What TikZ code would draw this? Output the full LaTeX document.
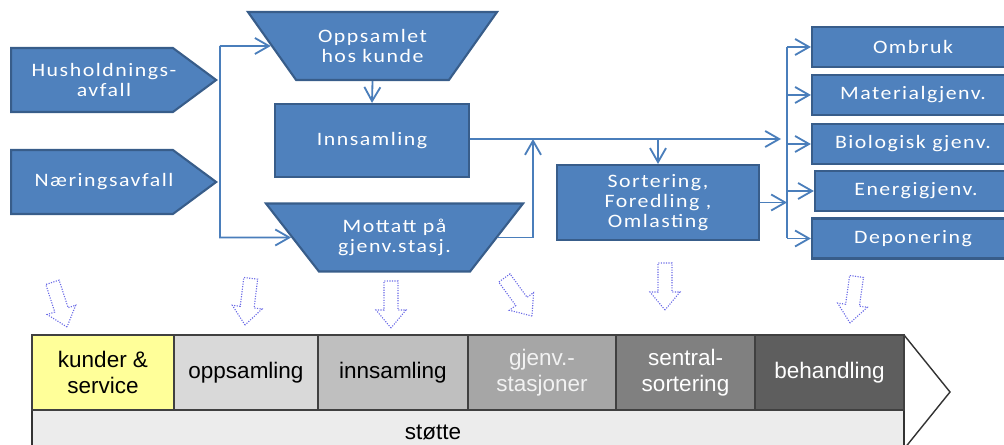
\documentclass[tikz,border=0pt]{standalone}
\usepackage{fontspec}
\usetikzlibrary{shapes.geometric,shapes.symbols,arrows.meta}
\newfontfamily\boxfont[LetterSpace=8,FakeStretch=1.15]{Carlito}
\newfontfamily\barfont{Liberation Sans}
\definecolor{boxblue}{HTML}{4F81BD}
\definecolor{boxedge}{HTML}{385D8A}
\definecolor{lineblue}{HTML}{4A7EBB}
\definecolor{dotblue}{HTML}{6A6AE6}
\definecolor{kundeyellow}{HTML}{FFFF99}
\begin{document}
\begin{tikzpicture}[x=0.025cm,y=-0.025cm,
  blk/.style={draw=boxedge,fill=boxblue,line width=1.5pt,text=white,
    font=\boxfont\fontsize{13.5}{14.5}\selectfont,align=center,inner sep=0pt},
  sigtext/.style={text=white,font=\boxfont\fontsize{13.5}{14.5}\selectfont,
    align=center,inner sep=0pt,xshift=0.3cm},
  sig/.style={blk,shape=signal,signal to=east,signal pointer angle=73,
    minimum width=5.125cm,minimum height=1.6cm},
  trap/.style={blk,shape=trapezium,shape border rotate=180,
    trapezium left angle=35,trapezium right angle=35,
    trapezium stretches body=true,minimum height=1.7cm},
  res/.style={blk,minimum width=5.05cm,minimum height=1cm},
  flow/.style={draw=lineblue,line width=1.3pt,-{Straight Barb[length=3.5mm,width=4mm]}},
  link/.style={draw=lineblue,line width=1.3pt},
  cell/.style={draw=black!75,line width=1pt,minimum height=1.875cm,
    font=\barfont\fontsize{16}{18.5}\selectfont,align=center,inner sep=0pt},
  hollow/.pic={\draw[dotblue,densely dotted,line width=0.8pt]
    (0,0) -- (-15,-18) -- (-7,-18) -- (-7,-47) -- (7,-47) -- (7,-18) -- (15,-18) -- cycle;}]
\useasboundingbox (0,0) rectangle (1004,445);

\node[sig,label={[sigtext]center:{Husholdnings-\\avfall}}] (hus) at (92,80) {};
\node[sig,label={[sigtext]center:{Næringsavfall}}] (naer) at (92,182) {};
\node[trap,minimum width=6.225cm] (opp) at (372.5,46) {Oppsamlet\\hos kunde};
\node[blk,minimum width=4.85cm,minimum height=1.825cm] (inn) at (372,140.5) {Innsamling};
\node[trap,minimum width=6.425cm] (mot) at (394.5,237.5) {Mottatt på\\gjenv.stasj.};
\node[blk,minimum width=5.05cm,minimum height=1.875cm] (sort) at (658,202.5) {Sortering,\\Foredling ,\\Omlasting};
\node[res] (ombr) at (913,47) {Ombruk};
\node[res] (mat) at (913,95) {Materialgjenv.};
\node[res] (bio) at (913,144) {Biologisk gjenv.};
\node[res] (ener) at (916,191) {Energigjenv.};
\node[res] (depo) at (913,238.5) {Deponering};

\coordinate (lbus) at (220,46);
\coordinate (lbusend) at (220,237.5);
\coordinate (join) at (533,139);
\coordinate (fork) at (781,139);
\coordinate (rbus) at (787,0);

\draw[flow] (lbus) -- (opp.west);
\draw[flow] (lbus) -- (lbusend) -- (mot.west);
\draw[flow] (opp.south) -- (inn.north);
\draw[flow] (mot.east) -| (join);
\draw[flow] (inn.east |- join) -- (fork);
\draw[flow] (sort.north |- join) -- (sort.north);
\draw[flow] (sort.east) -- (rbus |- sort.east);
\draw[link] (rbus |- ombr.west) -- (rbus |- depo.west);
\foreach \n in {ombr,mat,bio,ener,depo}
  \draw[flow] (rbus |- \n.west) -- (\n.west);

\pic[rotate=18] at (67,327) {hollow};
\pic[rotate=-7] at (245,325) {hollow};
\pic at (391,328) {hollow};
\pic[rotate=36] at (532,316) {hollow};
\pic at (665,310) {hollow};
\pic[rotate=-8] at (850,323) {hollow};

\draw[black!80,line width=1pt,fill=white] (32,335) -- (904,335) -- (950,392) -- (904,449) -- (32,449) -- cycle;
\fill[gray!15] (32,410) rectangle (904,449);
\draw[black!80,line width=1pt] (32,410) -- (32,449) (904,410) -- (904,449);
\node[cell,fill=kundeyellow,minimum width=3.55cm] (kund) at (103,372.5) {kunder \&\\service};
\node[cell,fill=gray!30,minimum width=3.6cm] (opps) at (246,372.5) {oppsamling};
\node[cell,fill=gray!50,minimum width=3.75cm] (innb) at (393,372.5) {innsamling};
\node[cell,fill=gray!70,text=gray!10,minimum width=3.7cm] (gjen) at (542,372.5) {gjenv.-\\stasjoner};
\node[cell,fill=gray!100,text=white,minimum width=3.475cm] (sent) at (685.5,372.5) {sentral-\\sortering};
\node[cell,fill=black!63,text=white,minimum width=3.725cm] (beha) at (829.5,372.5) {behandling};
\node[font=\barfont\fontsize{16}{18.5}\selectfont] (stot) at (433,432) {støtte};
\end{tikzpicture}
\end{document}
